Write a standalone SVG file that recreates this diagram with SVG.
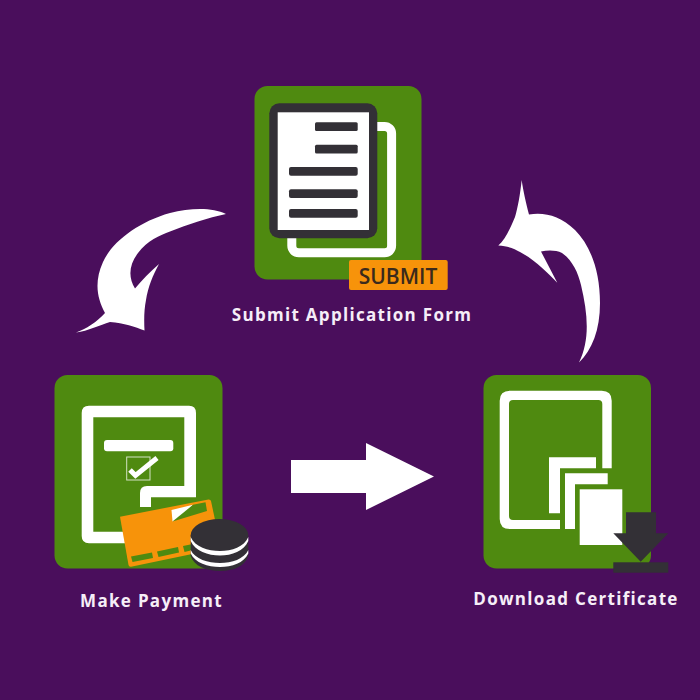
<svg xmlns="http://www.w3.org/2000/svg" width="700" height="700" viewBox="0 0 700 700">
<style>
.g{fill:#4f8a10}.w{fill:#fff}.d{fill:#333036}.o{fill:#f7930a}
.l{font-family:"Open Sans","Liberation Sans",sans-serif;font-weight:700;font-size:17px;letter-spacing:1.3px;fill:#f6eef8;text-anchor:middle}
</style>
<rect width="700" height="700" fill="#4a0e5c"/>
<g id="connectors" class="w">
<path id="arrow-submit-payment" d="M226 214C212 207 190 208 170 213C138 222 112 242 103 262C94 282 97 298 105 313C97 322 86 329 76 332.500C88 331 100 325 110 322C124 323 135 327 144.500 330.500C144 320 144 310 146 300C148 287 153 275 159 264C150 272 142 280 135 288.500C128 277 129 265 138 253C147 241 160 235 170 231.500C188 224 208 218 226 214Z"/>
<path id="arrow-payment-download" d="M291 460H366V443L434 476.500L366 510V493H291Z"/>
<path id="arrow-download-submit" d="M579 362.500C592 350 600 330 600 303C600 270 590 245 575 230C560 216 545 212 529 214.500C526 203 523 190 521.700 180C520 195 518 207 515 217C510 229 505 240 498.300 245.500C508 246 515 249 520 252C535 260 547 272 557.300 282.700L541 251.500C548 250 556 250 562 253C572 260 578 272 581 285C588 315 590 340 579 362.500Z"/>
</g>
<g id="node-submit">
<rect class="g" x="254.500" y="86" width="167" height="193.500" rx="13"/>
<rect x="291.800" y="126.400" width="99.800" height="126.400" rx="7" fill="none" stroke="#fff" stroke-width="9"/>
<rect class="d" x="269.300" y="103.300" width="108" height="135" rx="10"/>
<rect class="w" x="277.700" y="112.300" width="91.300" height="117.700"/>
<g class="d">
<rect x="315" y="122.300" width="42.700" height="8.700" rx="1.500"/>
<rect x="315" y="144.700" width="42.700" height="8.700" rx="1.500"/>
<rect x="289" y="167" width="68.700" height="8.700" rx="2"/>
<rect x="289" y="189.300" width="68.700" height="8.700" rx="2"/>
<rect x="289" y="209" width="68.700" height="8.700" rx="2"/>
</g>
<rect class="o" x="349" y="260" width="98.700" height="30" rx="2"/>
<text x="398" y="283.500" font-family="'Open Sans','Liberation Sans',sans-serif" font-size="21" font-weight="600" fill="#3a2a1c" text-anchor="middle">SUBMIT</text>
<text class="l" x="352" y="320.500">Submit Application Form</text>
</g>
<g id="node-payment">
<rect class="g" x="54.500" y="375" width="168" height="193.500" rx="13"/>
<path class="w" fill-rule="evenodd" d="M89 405.700H189Q196 405.700 196 413V497H184.300V417.300H93.300V531.700H125V543.300H89Q81.700 543.300 81.700 536V413Q81.700 405.700 89 405.700Z"/>
<path class="w" d="M147 486H196V497.300H151V507H140V493Q140 486 147 486Z"/>
<rect class="w" x="104" y="440" width="69.300" height="11.300" rx="3"/>
<rect x="126.700" y="457" width="23.300" height="23" fill="none" stroke="#fff" stroke-opacity=".75" stroke-width="1"/>
<path d="M130 470L135.500 475.500L157 458" fill="none" stroke="#fff" stroke-width="5"/>
<path class="o" d="M120 516.700L208.500 499.500Q210.500 499.300 211 501L221 548L131 566.700Q129 567 128.500 565Z"/>
<path class="w" d="M171.500 510L193 504.800L184 515L172.500 521.500Z"/>
<path class="g" d="M193 504.800L205.500 502.300L207 511L172.500 521.500Z"/>
<g class="g">
<path d="M131 556.500L152 552.500L153 558L132.500 562Z"/>
<path d="M157 551.500L178 547L179 552.500L158.500 557Z"/>
<path d="M183 546L200 542.500L201 548L184.500 552Z"/>
</g>
<path class="d" d="M190.700 535V556C194 566 206 571 220 571C234 571 245 566 248.300 556V535Z"/>
<ellipse class="d" cx="219.500" cy="535" rx="28.800" ry="16"/>
<path class="w" d="M190.700 537C195 547 208 551 220 551C232 551 244 547 248.300 537V541C244 551 232 555.500 220 555.500C208 555.500 195 551 190.700 541Z"/>
<path class="w" d="M190.700 550C195 559 208 563 220 563C232 563 244 559 248.300 550V553.500C244 563 232 567 220 567C208 567 195 563 190.700 553.500Z"/>
<text class="l" x="151.500" y="607">Make Payment</text>
</g>
<g id="node-download">
<rect class="g" x="483.500" y="375" width="167.500" height="193.500" rx="13"/>
<path class="w" fill-rule="evenodd" d="M510 390.700H601.700Q611.700 390.700 611.700 400.700V468.300H602.300V404Q602.300 400 598.300 400H513Q509 400 509 404V516Q509 520 513 520H560V529H510Q499.700 529 499.700 519V400.700Q499.700 390.700 510 390.700Z"/>
<path class="w" d="M549 457.300H596V468.300H560V513.300H549Z"/>
<path class="w" d="M565 473.300H607.700V484.300H575V529H565Z"/>
<rect class="w" x="579.700" y="489.300" width="42.600" height="55.700"/>
<path class="d" d="M626 512.300H656V533.300H668.300L640.700 561.700L613.300 533.300H626Z"/>
<rect class="d" x="613.300" y="562.300" width="55" height="10.400"/>
<text class="l" x="576" y="605">Download Certificate</text>
</g>
</svg>
